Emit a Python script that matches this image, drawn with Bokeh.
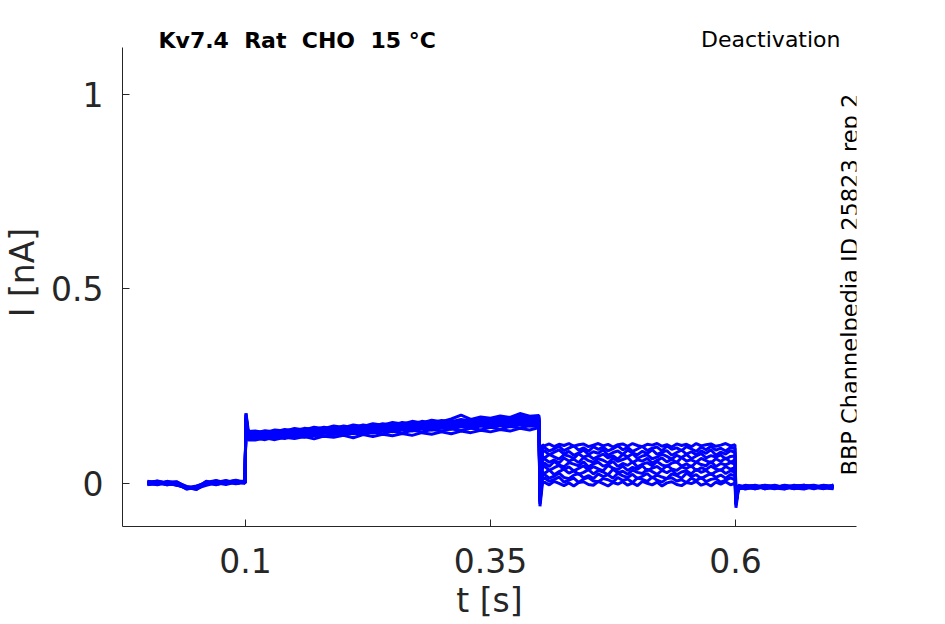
import math
from bokeh.plotting import figure
from bokeh.models import ColumnDataSource, Label, FixedTicker, Range1d
from bokeh.embed import file_html
from bokeh.resources import INLINE

# ---------------- data ----------------
t_pre = [0.000, 0.010, 0.020, 0.030, 0.040, 0.050, 0.060, 0.070, 0.080, 0.090, 0.0995]
t_on = [0.1005, 0.103]
t_dep = [0.11, 0.12, 0.13, 0.14, 0.15, 0.16, 0.17, 0.18, 0.19, 0.20,
         0.21, 0.22, 0.23, 0.24, 0.25, 0.26, 0.27, 0.28, 0.29, 0.30,
         0.31, 0.32, 0.33, 0.34, 0.35, 0.36, 0.37, 0.38, 0.39, 0.3995]
t_off1 = [0.4005, 0.403]
t_deact = [0.405, 0.410, 0.415, 0.420, 0.425, 0.430, 0.435, 0.440, 0.445, 0.450,
           0.455, 0.460, 0.465, 0.470, 0.475, 0.480, 0.485, 0.490, 0.495, 0.500,
           0.505, 0.510, 0.515, 0.520, 0.525, 0.530, 0.535, 0.540, 0.545, 0.550,
           0.555, 0.560, 0.565, 0.570, 0.575, 0.580, 0.585, 0.590, 0.595, 0.5995]
t_off2 = [0.6005, 0.603]
t_post = [0.61, 0.62, 0.63, 0.64, 0.65, 0.66, 0.67, 0.68, 0.69, 0.70]

pre_seg = [
    [.003, -.003, .002, -.004, -.010, -.012, -.004, .002, -.002, .004, .002],
    [-.002, .004, -.003, .001, -.013, -.007, .002, -.003, .005, .000, .003],
    [.004, .000, .005, -.002, -.010, -.014, .000, .005, .001, .006, .001],
    [.000, .005, -.002, .003, -.007, -.011, .004, .000, .006, .002, .004],
    [.005, .001, .003, -.003, -.012, -.008, -.002, .006, .002, .007, .003],
    [-.003, .003, .000, .004, -.009, -.015, .001, .002, .007, .001, .005],
    [.001, -.002, .006, .000, -.014, -.009, .005, -.002, .003, .008, .002],
    [.004, .006, .001, -.004, -.008, -.013, .000, .007, .000, .004, .006],
    [-.002, .000, .004, .005, -.011, -.006, .002, .003, .008, .002, .004],
    [.006, .002, -.003, .001, -.013, -.011, .006, .001, .004, .009, .003],
    [.000, .007, .002, -.002, -.009, -.010, .003, .008, .002, .005, .007],
]
on_peak = [.170, .155, .180, .162, .172, .150, .168, .176, .158, .165, .181]
on_settle = [.112, .116, .119, .117, .124, .121, .127, .123, .130, .128, .134]

dep_seg = [
    [.112, .118, .113, .119, .116, .121, .115, .122, .119, .124, .118, .126, .121, .127, .123,
     .129, .124, .131, .127, .133, .128, .135, .131, .137, .133, .139, .135, .142, .138, .144],
    [.117, .113, .120, .116, .123, .119, .125, .121, .128, .124, .130, .126, .133, .128, .135,
     .130, .137, .133, .139, .135, .141, .136, .143, .138, .145, .140, .147, .143, .149, .146],
    [.121, .117, .122, .125, .120, .127, .123, .130, .126, .132, .128, .135, .130, .137, .133,
     .139, .135, .141, .138, .143, .140, .146, .142, .148, .144, .150, .146, .152, .148, .151],
    [.119, .125, .121, .128, .124, .131, .126, .133, .129, .135, .131, .138, .134, .140, .136,
     .142, .139, .145, .141, .147, .143, .150, .146, .152, .148, .154, .150, .157, .152, .155],
    [.126, .121, .129, .124, .132, .127, .135, .129, .137, .132, .140, .134, .142, .137, .145,
     .139, .147, .142, .150, .144, .152, .147, .154, .149, .157, .151, .159, .153, .161, .158],
    [.123, .129, .125, .131, .128, .134, .130, .137, .133, .140, .135, .142, .138, .145, .141,
     .147, .143, .150, .146, .152, .149, .155, .151, .157, .154, .160, .156, .162, .158, .160],
    [.129, .124, .132, .128, .135, .131, .138, .133, .141, .136, .143, .139, .146, .141, .149,
     .144, .151, .147, .154, .150, .157, .152, .159, .155, .162, .157, .164, .160, .166, .163],
    [.126, .132, .129, .135, .131, .138, .134, .141, .137, .144, .140, .147, .142, .149, .145,
     .152, .148, .155, .151, .158, .153, .160, .156, .163, .158, .166, .161, .168, .164, .165],
    [.132, .128, .135, .132, .139, .135, .141, .138, .145, .141, .147, .143, .150, .146, .153,
     .149, .156, .152, .158, .155, .161, .157, .164, .160, .166, .163, .169, .165, .171, .167],
    [.130, .136, .133, .139, .136, .142, .139, .145, .141, .148, .144, .151, .147, .154, .150,
     .157, .153, .160, .156, .162, .159, .165, .161, .168, .164, .170, .167, .173, .169, .171],
    [.135, .131, .138, .135, .142, .138, .145, .141, .148, .144, .151, .147, .154, .150, .157,
     .153, .160, .156, .163, .159, .166, .176, .165, .171, .168, .174, .170, .180, .173, .175],
]
off1_peak = [-.058, -.045, -.052, -.040, -.035, -.048, -.030, -.042, -.025, -.038, -.020]
deact_level = [.000, .010, .020, .030, .040, .050, .060, .070, .080, .090, .100]

deact_seg = [
    [.004, -.003, .006, .001, -.005, .002, -.006, .003, .005, -.002,
     -.004, .006, .000, -.006, .003, -.001, .005, -.004, .002, -.005,
     .006, .001, -.003, .004, -.006, .002, .005, -.002, -.005, .003,
     .000, .006, -.004, .001, -.006, .004, -.001, .005, -.003, .001],
    [.015, .006, .011, .017, .004, .009, .014, .003, .012, .016,
     .007, .005, .013, .010, .004, .016, .008, .012, .003, .015,
     .011, .006, .017, .009, .004, .013, .015, .007, .010, .003,
     .014, .008, .016, .005, .011, .013, .004, .009, .015, .010],
    [.024, .014, .019, .027, .016, .013, .022, .026, .015, .021,
     .013, .025, .018, .023, .014, .027, .020, .016, .024, .013,
     .019, .026, .015, .022, .017, .013, .025, .021, .014, .027,
     .018, .023, .013, .020, .026, .016, .022, .014, .024, .020],
    [.026, .035, .023, .031, .037, .027, .033, .024, .029, .036,
     .025, .034, .030, .023, .037, .028, .032, .024, .035, .029,
     .026, .037, .031, .024, .034, .028, .036, .023, .030, .033,
     .025, .037, .029, .034, .023, .031, .036, .026, .033, .030],
    [.045, .034, .041, .047, .036, .043, .033, .039, .046, .035,
     .044, .038, .033, .047, .040, .036, .045, .034, .042, .037,
     .046, .033, .040, .044, .035, .047, .038, .034, .043, .039,
     .046, .033, .041, .036, .045, .038, .034, .044, .037, .041],
    [.053, .044, .057, .048, .043, .054, .050, .046, .056, .043,
     .051, .055, .045, .049, .057, .044, .052, .047, .056, .043,
     .050, .054, .046, .057, .048, .044, .053, .056, .045, .051,
     .043, .055, .049, .046, .057, .044, .052, .048, .054, .050],
    [.064, .055, .061, .053, .066, .058, .063, .054, .067, .059,
     .055, .064, .060, .053, .066, .057, .062, .067, .054, .061,
     .058, .065, .053, .060, .066, .056, .063, .054, .067, .058,
     .061, .055, .065, .059, .053, .064, .057, .066, .055, .061],
    [.066, .075, .069, .063, .074, .071, .065, .077, .068, .073,
     .064, .070, .076, .066, .072, .063, .075, .069, .077, .065,
     .071, .074, .064, .068, .076, .070, .063, .073, .067, .075,
     .064, .071, .077, .066, .072, .068, .074, .063, .070, .071],
    [.085, .074, .081, .087, .076, .083, .073, .079, .086, .075,
     .082, .078, .087, .073, .080, .084, .075, .086, .079, .074,
     .083, .077, .087, .075, .081, .085, .073, .080, .086, .076,
     .082, .074, .084, .078, .087, .073, .081, .076, .085, .080],
    [.093, .084, .089, .096, .085, .091, .097, .086, .092, .083,
     .095, .088, .094, .084, .090, .097, .087, .093, .083, .089,
     .096, .085, .091, .094, .084, .097, .088, .092, .085, .095,
     .089, .083, .094, .087, .096, .086, .091, .084, .093, .090],
    [.097, .102, .095, .101, .098, .103, .096, .100, .102, .095,
     .099, .103, .097, .101, .094, .100, .102, .096, .103, .098,
     .095, .101, .099, .103, .096, .100, .094, .102, .098, .101,
     .095, .103, .097, .100, .102, .096, .099, .103, .097, .100],
]
off2_peak = [-.062, -.050, -.045, -.055, -.040, -.048, -.035, -.052, -.042, -.038, -.046]
off2_settle = [-.013, -.007, -.010, -.005, -.012, -.009, -.006, -.014, -.004, -.010, -.008]

post_seg = [
    [-.012, -.005, -.013, -.006, -.010, -.004, -.011, -.008, -.005, -.010],
    [-.006, -.013, -.008, -.011, -.005, -.010, -.006, -.012, -.008, -.004],
    [-.010, -.004, -.011, -.007, -.013, -.006, -.004, -.010, -.012, -.006],
    [-.014, -.008, -.005, -.012, -.008, -.011, -.014, -.005, -.009, -.012],
    [-.005, -.011, -.009, -.004, -.011, -.007, -.005, -.011, -.006, -.008],
    [-.008, -.006, -.013, -.009, -.005, -.012, -.009, -.006, -.012, -.005],
    [-.012, -.009, -.006, -.011, -.014, -.005, -.008, -.013, -.004, -.010],
    [-.004, -.008, -.011, -.005, -.009, -.013, -.006, -.004, -.011, -.013],
    [-.009, -.013, -.005, -.008, -.006, -.010, -.012, -.008, -.013, -.003],
    [-.006, -.005, -.009, -.013, -.004, -.007, -.011, -.009, -.005, -.008],
    [-.011, -.009, -.004, -.007, -.011, -.008, -.004, -.010, -.008, -.012],
]

x_ticks = [0.1, 0.35, 0.6]
y_ticks = [0, 0.5, 1]
x_lim = (-0.0255, 0.7235)   # visible axis extent
y_lim = (-0.11, 1.12)

# ---------------- build traces ----------------
t_all = t_pre + t_on + t_dep + t_off1 + t_deact + t_off2 + t_post
xs, ys = [], []
for k in range(len(pre_seg)):
    y = (pre_seg[k] + [on_peak[k], on_settle[k]] + dep_seg[k]
         + [off1_peak[k], deact_level[k]] + deact_seg[k]
         + [off2_peak[k], off2_settle[k]] + post_seg[k])
    xs.append(t_all)
    ys.append(y)
src = ColumnDataSource(dict(xs=xs, ys=ys))

# ---------------- figure ----------------
W, H = 937, 624
frame_top, frame_bottom = 18, 526       # frame extends above the axis top so texts fit
axis_top = 47
px_per_unit = (frame_bottom - axis_top) / (y_lim[1] - y_lim[0])
y_end = y_lim[1] + (axis_top - frame_top) / px_per_unit

p = figure(width=W, height=H, output_backend="svg", toolbar_location=None,
           x_range=Range1d(*x_lim), y_range=Range1d(y_lim[0], y_end),
           min_border_left=122, min_border_right=W - 856, min_border_top=frame_top,
           min_border_bottom=H - frame_bottom)
p.outline_line_color = None
p.grid.visible = False
p.background_fill_color = "white"
p.border_fill_color = "white"

p.multi_line(xs="xs", ys="ys", source=src, line_color="#0000ff", line_width=3.0)

axc = "#262626"
for ax in (p.xaxis[0], p.yaxis[0]):
    ax.axis_line_color = axc
    ax.major_tick_line_color = axc
    ax.minor_tick_line_color = None
    ax.major_tick_in = 7
    ax.major_tick_out = 0
    ax.major_label_text_color = axc
    ax.major_label_text_font = "DejaVu Sans"
    ax.major_label_text_font_size = "33px"
    ax.axis_label_text_color = axc
    ax.axis_label_text_font = "DejaVu Sans"
    ax.axis_label_text_font_size = "33px"
    ax.axis_label_text_font_style = "normal"

p.yaxis.bounds = y_lim
p.xaxis.ticker = FixedTicker(ticks=x_ticks)
p.yaxis.ticker = FixedTicker(ticks=y_ticks)
p.xaxis.major_label_overrides = {0.1: "0.1", 0.35: "0.35", 0.6: "0.6"}
p.yaxis.major_label_overrides = {0: "0", 0.5: "0.5", 1: "1"}
p.xaxis.axis_label = "t [s]"
p.yaxis.axis_label = "I [nA]"
p.xaxis.major_label_standoff = 21
p.yaxis.major_label_standoff = 19
p.xaxis.axis_label_standoff = 5
p.yaxis.axis_label_standoff = 6

NB = "\u00a0"
p.add_layout(Label(x=158, y=40, x_units="canvas", y_units="canvas",
                   text=f"Kv7.4 {NB}Rat {NB}CHO {NB}15 °C", text_font="DejaVu Sans",
                   text_font_style="bold", text_font_size="22px",
                   text_baseline="middle", text_align="left", text_color="black"))
p.add_layout(Label(x=840, y=39, x_units="canvas", y_units="canvas",
                   text="Deactivation", text_font="DejaVu Sans",
                   text_font_size="22px", text_baseline="middle",
                   text_align="right", text_color="black"))
p.add_layout(Label(x=849, y=475, x_units="canvas", y_units="canvas",
                   text="BBP Channelpedia ID 25823 rep 2", text_font="DejaVu Sans",
                   text_font_size="22.5px", text_baseline="middle",
                   text_align="left", angle=math.pi / 2, text_color="black"))

open("out.html", "w").write(file_html(p, INLINE))
